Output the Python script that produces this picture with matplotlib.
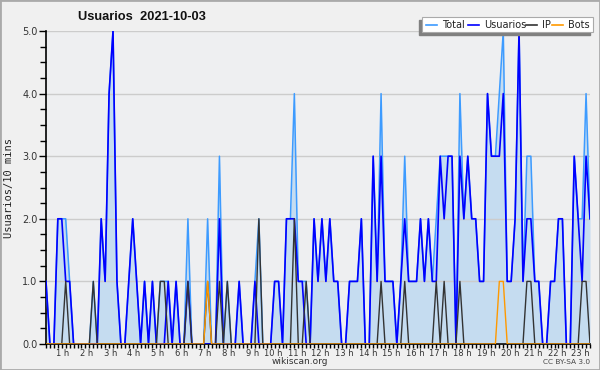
#!/usr/bin/env python3
"""Usuarios por 10 minutos, 2021-10-03 (wikiscan style)."""
import matplotlib
matplotlib.use('Agg')
import matplotlib.pyplot as plt
import matplotlib.patches as mpatches
from matplotlib.lines import Line2D
from matplotlib.ticker import MultipleLocator

TITLE = 'Usuarios  2021-10-03'
YLABEL = 'Usuarios/10 mins'
HOUR_LABELS = [f'{h} h' for h in range(1, 24)]
SERIES = ['Total', 'Usuarios', 'IP', 'Bots']

# one value per 10 minutes, rows = hours
USUARIOS = [
    1, 0, 0, 2, 2, 1,
    1, 0, 0, 0, 0, 0,
    0, 0, 2, 1, 4, 5,
    1, 0, 0, 1, 2, 1,
    0, 1, 0, 1, 0, 0,
    0, 1, 0, 1, 0, 0,
    1, 0, 0, 0, 0, 0,
    0, 0, 2, 0, 0, 0,
    0, 1, 0, 0, 0, 1,
    0, 0, 0, 0, 1, 1,
    0, 2, 2, 2, 1, 1,
    0, 0, 2, 1, 2, 1,
    2, 1, 1, 0, 0, 1,
    1, 1, 2, 0, 0, 3,
    1, 3, 1, 1, 1, 0,
    1, 2, 1, 1, 1, 2,
    1, 2, 1, 1, 3, 2,
    3, 3, 0, 3, 2, 3,
    2, 2, 1, 1, 4, 3,
    3, 3, 4, 1, 1, 2,
    5, 1, 2, 2, 1, 1,
    0, 0, 1, 1, 2, 2,
    0, 0, 3, 2, 1, 3,
    2,
]
IP = [
    0, 0, 0, 0, 0, 1,
    0, 0, 0, 0, 0, 0,
    1, 0, 0, 0, 0, 0,
    0, 0, 0, 0, 0, 0,
    0, 0, 0, 0, 0, 1,
    1, 0, 0, 0, 0, 0,
    1, 0, 0, 0, 0, 1,
    0, 0, 1, 0, 1, 0,
    0, 0, 0, 0, 0, 0,
    2, 0, 0, 0, 0, 0,
    0, 0, 0, 2, 0, 0,
    1, 0, 0, 0, 0, 0,
    0, 0, 0, 0, 0, 0,
    0, 0, 0, 0, 0, 0,
    0, 1, 0, 0, 0, 0,
    0, 1, 0, 0, 0, 0,
    0, 0, 0, 1, 0, 1,
    0, 0, 0, 1, 0, 0,
    0, 0, 0, 0, 0, 0,
    0, 0, 0, 0, 0, 0,
    0, 0, 1, 1, 0, 0,
    0, 0, 0, 0, 0, 0,
    0, 0, 0, 0, 1, 1,
    0,
]
BOTS = [
    0, 0, 0, 0, 0, 0,
    0, 0, 0, 0, 0, 0,
    0, 0, 0, 0, 0, 0,
    0, 0, 0, 0, 0, 0,
    0, 0, 0, 0, 0, 0,
    0, 0, 0, 0, 0, 0,
    0, 0, 0, 0, 0, 1,
    0, 0, 0, 0, 0, 0,
    0, 0, 0, 0, 0, 0,
    0, 0, 0, 0, 0, 0,
    0, 0, 0, 0, 0, 0,
    0, 0, 0, 0, 0, 0,
    0, 0, 0, 0, 0, 0,
    0, 0, 0, 0, 0, 0,
    0, 0, 0, 0, 0, 0,
    0, 0, 0, 0, 0, 0,
    0, 0, 0, 0, 0, 0,
    0, 0, 0, 0, 0, 0,
    0, 0, 0, 0, 0, 0,
    0, 1, 1, 0, 0, 0,
    0, 0, 0, 0, 0, 0,
    0, 0, 0, 0, 0, 0,
    0, 0, 0, 0, 0, 0,
    0,
]
TOTAL = [
    1, 0, 0, 2, 2, 2,
    1, 0, 0, 0, 0, 0,
    1, 0, 2, 1, 4, 5,
    1, 0, 0, 1, 2, 1,
    0, 1, 0, 1, 0, 1,
    1, 1, 0, 1, 0, 0,
    2, 0, 0, 0, 0, 2,
    0, 0, 3, 0, 1, 0,
    0, 1, 0, 0, 0, 1,
    2, 0, 0, 0, 1, 1,
    0, 2, 2, 4, 1, 1,
    1, 0, 2, 1, 2, 1,
    2, 1, 1, 0, 0, 1,
    1, 1, 2, 0, 0, 3,
    1, 4, 1, 1, 1, 0,
    1, 3, 1, 1, 1, 2,
    1, 2, 1, 2, 3, 3,
    3, 3, 0, 4, 2, 3,
    2, 2, 1, 1, 4, 3,
    3, 4, 5, 1, 1, 2,
    5, 1, 3, 3, 1, 1,
    0, 0, 1, 1, 2, 2,
    0, 0, 3, 2, 2, 4,
    2,
]

C_TOTAL = '#3d9bff'
C_FILL = '#c5dcf0'
C_USR = '#0000ff'
C_IP = '#333333'
C_BOTS = '#ff9900'
COLORS = [C_TOTAL, C_USR, C_IP, C_BOTS]

x = [i / 6 for i in range(len(TOTAL))]

fig = plt.figure(figsize=(6, 3.7), dpi=100)
fig.patch.set_facecolor('#f0f0f0')
ax = fig.add_axes([46/600, 26/370, 544/600, 313/370])
ax.set_facecolor('#eeeff1')

ax.fill_between(x, TOTAL, 0, color=C_FILL, lw=0, zorder=1)
ax.plot(x, TOTAL, color=C_TOTAL, lw=1.1, zorder=3)
ax.plot(x, USUARIOS, color=C_USR, lw=1.2, zorder=4)
ax.plot(x, IP, color=C_IP, lw=1.0, zorder=5)
ax.plot(x, BOTS, color=C_BOTS, lw=1.0, zorder=6)

ax.set_xlim(0, x[-1]); ax.set_ylim(0, 5)
ax.yaxis.set_minor_locator(MultipleLocator(0.25))
ax.set_yticks(range(6))
ax.set_yticklabels([f'{v:.1f}' for v in range(6)])
ax.grid(axis='y', which='major', color='#cccccc', lw=1, zorder=0)
ax.set_xticks(range(1, 24))
ax.set_xticklabels(HOUR_LABELS)
ax.xaxis.set_minor_locator(MultipleLocator(1/6))
for lab in ax.get_xticklabels():
    lab.set_horizontalalignment('right')
ax.tick_params(axis='both', which='both', direction='out', color='black',
               labelcolor='#333333', width=1)
ax.tick_params(axis='x', which='both', length=3, pad=0.5, labelsize=6)
ax.tick_params(axis='y', which='major', length=5, pad=1, labelsize=7)
ax.tick_params(axis='y', which='minor', length=4)
for sp in ['top', 'right']: ax.spines[sp].set_visible(False)
for sp in ['left', 'bottom']: ax.spines[sp].set_color('black')
ax.spines['left'].set_linewidth(1.2); ax.spines['bottom'].set_linewidth(1.2)

ax.set_ylabel(YLABEL, family='DejaVu Sans Mono', fontsize=7.5,
              color='#222222', labelpad=6)
fig.text(78/600, 1 - 17/370, TITLE, fontsize=9.3, fontweight='bold',
         family='Liberation Sans', va='center', ha='left', color='#111111')

# legend: white box, grey shadow down-left, short line + name per series
def px(xp, yp):
    return xp / 600, 1 - yp / 370

fig.patches.append(mpatches.Rectangle(px(419, 35), 171/600, 15/370,
                   transform=fig.transFigure, color='#808080', zorder=8))
fig.patches.append(mpatches.Rectangle(px(422, 32), 171/600, 15/370,
                   transform=fig.transFigure, facecolor='white',
                   edgecolor='#aaaaaa', lw=0.8, zorder=9))
leg_x = [426, 468, 526, 552]
for name, col, x0 in zip(SERIES, COLORS, leg_x):
    (ax0, ay), (ax1, _) = px(x0, 24.5), px(x0 + 11, 24.5)
    fig.add_artist(Line2D([ax0, ax1], [ay, ay], color=col, lw=1.2,
                          transform=fig.transFigure, zorder=10))
    fig.text(*px(x0 + 16, 24.5), name, fontsize=7, ha='left', va='center',
             color='#222222', zorder=10)

fig.text(0.5, 1 - 361/370, 'wikiscan.org', fontsize=6.5, ha='center',
         va='center', color='#333333')
fig.text(590/600, 1 - 362/370, 'CC BY-SA 3.0', fontsize=5.3, ha='right',
         va='center', color='#444444')
fig.patches.append(mpatches.Rectangle((0, 0), 1, 1, transform=fig.transFigure,
                                      fill=False, edgecolor='#aaaaaa', lw=2))

fig.savefig('out.png', dpi=100, facecolor=fig.get_facecolor())
